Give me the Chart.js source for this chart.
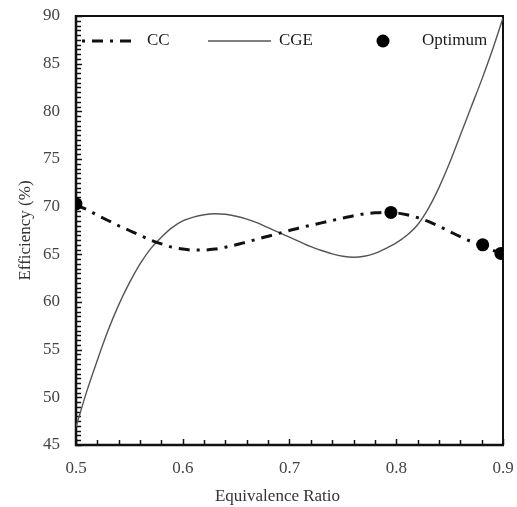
<!DOCTYPE html>
<html>
<head>
<meta charset="utf-8">
<script src="https://cdn.jsdelivr.net/npm/chart.js@4.4.1/dist/chart.umd.min.js"></script>
<style>
  html, body { margin: 0; padding: 0; background: #fff; }
</style>
</head>
<body>
<canvas id="effChart" width="517" height="507"></canvas>
<script>
// Values
const ratioSteps = [0.50, 0.51, 0.52, 0.53, 0.54, 0.55, 0.56, 0.57, 0.58, 0.59, 0.60,
                    0.61, 0.62, 0.63, 0.64, 0.65, 0.66, 0.67, 0.68, 0.69, 0.70,
                    0.71, 0.72, 0.73, 0.74, 0.75, 0.76, 0.77, 0.78, 0.79, 0.80,
                    0.81, 0.82, 0.83, 0.84, 0.85, 0.86, 0.87, 0.88, 0.89, 0.90];
const ccEfficiency = [70.2, 69.7, 69.1, 68.55, 68.0, 67.5, 67.0, 66.5, 66.1, 65.75, 65.55,
                      65.45, 65.45, 65.55, 65.75, 66.0, 66.3, 66.6, 66.9, 67.2, 67.5,
                      67.8, 68.05, 68.3, 68.55, 68.8, 69.05, 69.25, 69.35, 69.4, 69.35,
                      69.15, 68.85, 68.45, 67.95, 67.4, 66.85, 66.35, 65.95, 65.45, 65.0];
const cgeEfficiency = [46.9, 50.6, 53.9, 57.0, 59.7, 62.0, 64.0, 65.6, 66.8, 67.8, 68.5,
                       68.9, 69.15, 69.25, 69.2, 69.0, 68.7, 68.3, 67.8, 67.3, 66.8,
                       66.3, 65.8, 65.4, 65.05, 64.8, 64.7, 64.8, 65.1, 65.6, 66.2,
                       67.0, 68.1, 69.8, 72.0, 74.6, 77.5, 80.4, 83.3, 86.4, 89.8];
const optimumRatio = [0.50, 0.795, 0.881, 0.898];
const optimumEfficiency = [70.3, 69.4, 66.0, 65.1];

const seriesNames = ['CC', 'CGE', 'Optimum'];
const xTicks = [0.5, 0.6, 0.7, 0.8, 0.9];
const yTicks = [45, 50, 55, 60, 65, 70, 75, 80, 85, 90];
const xTitle = 'Equivalence Ratio';

const serif = 'Liberation Serif, Times New Roman, serif';

function toPoints(xs, ys) {
    return xs.map((x, i) => ({ x: x, y: ys[i] }));
}

// Frame round the plot plus inward minor/major tick marks
const framePlugin = {
    id: 'frame',
    beforeDatasetsDraw(chart) {
        const { ctx, chartArea: a, scales } = chart;
        ctx.save();
        ctx.strokeStyle = '#111';
        ctx.lineCap = 'butt';

        // ticks every 0.02 on x, every 0.5 on y
        ctx.lineWidth = 1.5;
        for (let i = 0; i <= 20; i++) {
            const v = 0.5 + i * 0.02;
            const px = Math.round(scales.x.getPixelForValue(v)) + 0.5;
            const len = (i % 5 === 0) ? 6 : 5;
            ctx.beginPath();
            ctx.moveTo(px, a.bottom);
            ctx.lineTo(px, a.bottom - len);
            ctx.stroke();
        }
        for (let i = 0; i <= 90; i++) {
            const v = 45 + i * 0.5;
            const py = Math.round(scales.y.getPixelForValue(v)) + 0.5;
            const len = (i % 10 === 0) ? 6 : 5;
            ctx.beginPath();
            ctx.moveTo(a.left, py);
            ctx.lineTo(a.left + len, py);
            ctx.stroke();
        }

        // top and right border
        ctx.lineWidth = 2;
        ctx.beginPath();
        ctx.moveTo(a.left, a.top);
        ctx.lineTo(a.right, a.top);
        ctx.lineTo(a.right, a.bottom);
        ctx.stroke();

        // left and bottom axes, a bit heavier
        ctx.lineWidth = 2.5;
        ctx.beginPath();
        ctx.moveTo(a.left, a.top - 1);
        ctx.lineTo(a.left, a.bottom);
        ctx.lineTo(a.right + 1, a.bottom);
        ctx.stroke();
        ctx.restore();
    }
};

// Legend sits inside the plot, drawn by hand; x title sits a little left of centre
const legendPlugin = {
    id: 'insideLegend',
    afterDraw(chart) {
        const { ctx, chartArea: a } = chart;
        const ds = chart.data.datasets;
        const y = a.top + 25;
        ctx.save();
        ctx.font = '17px ' + serif;
        ctx.fillStyle = '#1a1a1a';
        ctx.textBaseline = 'middle';

        // CC
        ctx.strokeStyle = ds[0].borderColor;
        ctx.lineWidth = ds[0].borderWidth;
        ctx.setLineDash([3, 7, 11, 7]);
        ctx.beginPath();
        ctx.moveTo(a.left + 6, y);
        ctx.lineTo(a.left + 62, y);
        ctx.stroke();
        ctx.setLineDash([]);
        ctx.fillText(ds[0].label, a.left + 71, y);

        // CGE
        ctx.strokeStyle = ds[1].borderColor;
        ctx.lineWidth = ds[1].borderWidth;
        ctx.beginPath();
        ctx.moveTo(a.left + 132, y);
        ctx.lineTo(a.left + 195, y);
        ctx.stroke();
        ctx.fillText(ds[1].label, a.left + 203, y);

        // Optimum
        ctx.fillStyle = ds[2].backgroundColor;
        ctx.beginPath();
        ctx.arc(a.left + 307, y, ds[2].pointRadius, 0, Math.PI * 2);
        ctx.fill();
        ctx.fillStyle = '#1a1a1a';
        ctx.fillText(ds[2].label, a.left + 346, y);

        // x axis title
        ctx.fillStyle = '#333';
        ctx.textAlign = 'center';
        ctx.fillText(xTitle, (a.left + a.right) / 2 - 12, a.bottom + 52);
        ctx.restore();
    }
};

new Chart(document.getElementById('effChart'), {
    type: 'scatter',
    data: {
        datasets: [{
            label: seriesNames[0],
            data: toPoints(ratioSteps, ccEfficiency),
            showLine: true,
            borderColor: '#111',
            borderWidth: 3,
            borderDash: [11, 7, 3, 7],
            pointRadius: 0,
            cubicInterpolationMode: 'monotone',
            order: 2
        }, {
            label: seriesNames[1],
            data: toPoints(ratioSteps, cgeEfficiency),
            showLine: true,
            borderColor: '#555',
            borderWidth: 1.4,
            pointRadius: 0,
            cubicInterpolationMode: 'monotone',
            order: 3
        }, {
            label: seriesNames[2],
            data: toPoints(optimumRatio, optimumEfficiency),
            showLine: false,
            backgroundColor: '#000',
            borderColor: '#000',
            borderWidth: 0,
            pointRadius: 6.5,
            order: 1
        }]
    },
    options: {
        responsive: false,
        animation: false,
        events: [],
        layout: { padding: { top: 16, right: 14, left: 0, bottom: 0 } },
        plugins: {
            legend: { display: false },
            tooltip: { enabled: false }
        },
        scales: {
            x: {
                type: 'linear',
                min: 0.5,
                max: 0.9,
                afterBuildTicks: s => { s.ticks = xTicks.map(v => ({ value: v })); },
                afterFit: s => { s.height = 62; s.paddingLeft = 0; s.paddingRight = 0; },
                grid: { display: false, drawTicks: false },
                border: { display: false },
                ticks: {
                    padding: 13,
                    color: '#444',
                    font: { family: serif, size: 17 },
                    callback: v => v.toFixed(1)
                },
                title: { display: false }
            },
            y: {
                min: 45,
                max: 90,
                afterBuildTicks: s => { s.ticks = yTicks.map(v => ({ value: v })); },
                afterFit: s => { s.width = 76; s.paddingTop = 0; s.paddingBottom = 0; },
                grid: { display: false, drawTicks: false },
                border: { display: false },
                ticks: {
                    padding: 16,
                    color: '#444',
                    font: { family: serif, size: 17 }
                },
                title: {
                    display: true,
                    text: 'Efficiency (%)',
                    color: '#333',
                    font: { family: serif, size: 17 },
                    padding: { top: 15, bottom: 0 }
                }
            }
        }
    },
    plugins: [framePlugin, legendPlugin]
});
</script>
</body>
</html>
